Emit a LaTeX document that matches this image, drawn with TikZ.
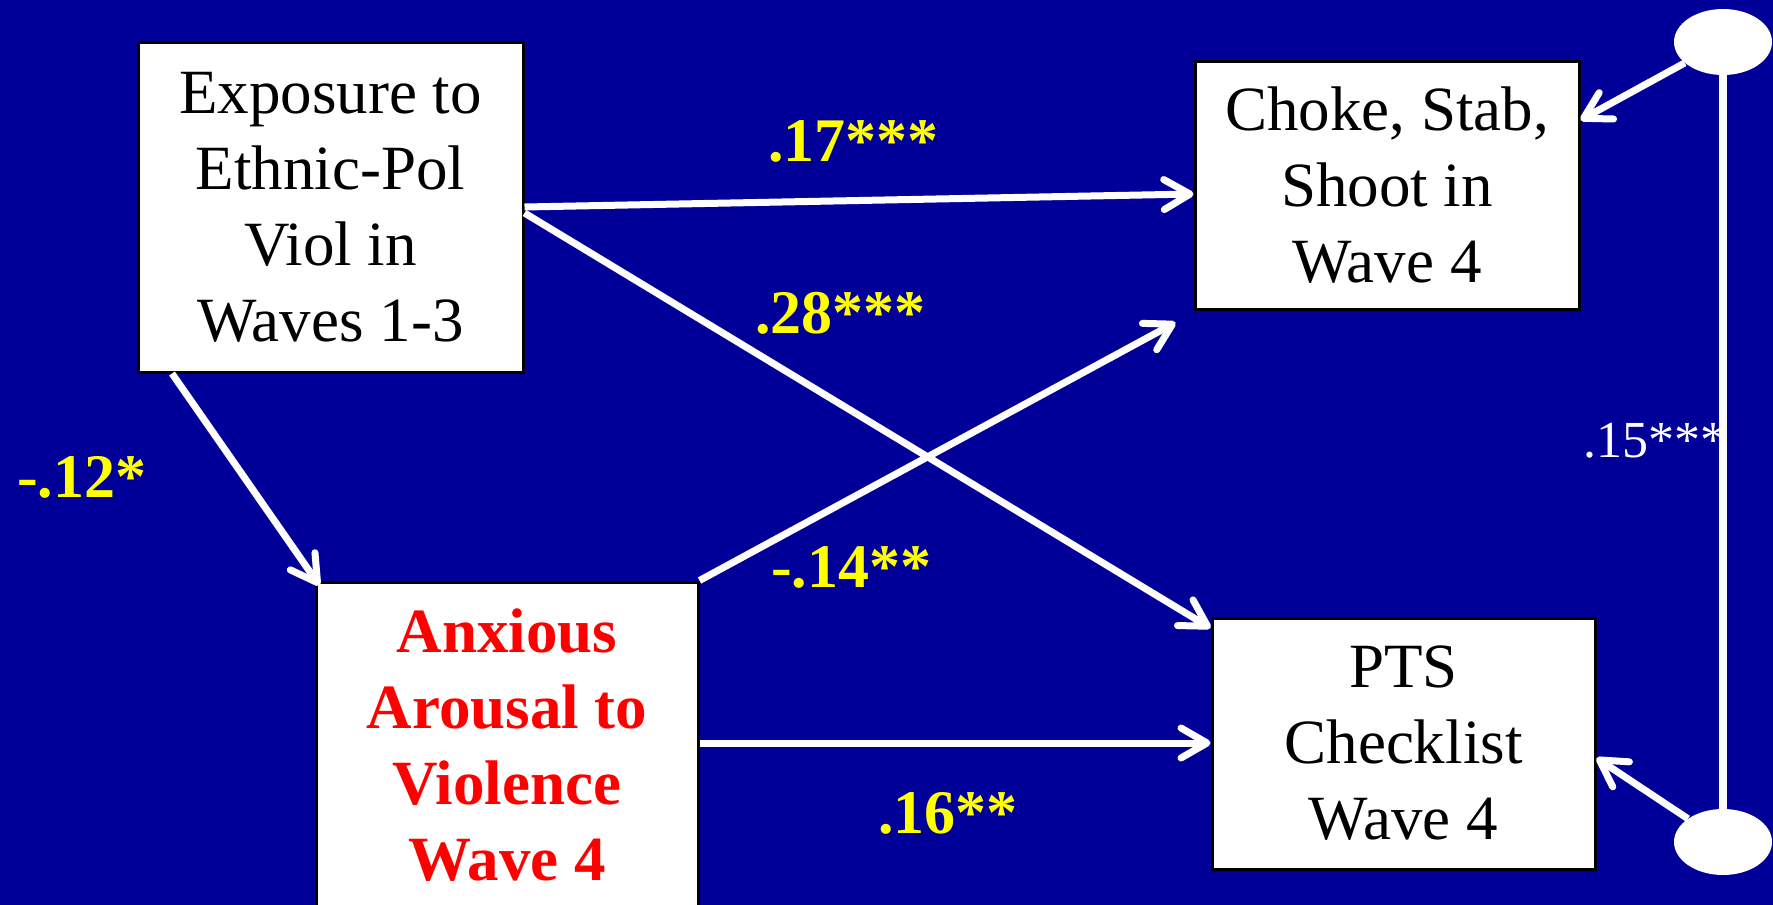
\documentclass[tikz,border=0pt]{standalone}
\usepackage{fontspec}
\setmainfont{Liberation Serif}
\usetikzlibrary{arrows.meta,shapes.geometric,calc}
\definecolor{bg}{RGB}{0,0,153}
\definecolor{lab}{RGB}{255,255,0}
\definecolor{anxred}{RGB}{255,0,0}
\begin{document}
\begin{tikzpicture}[x=1pt,y=-1pt,
  box/.style={draw=black, line width=3pt, fill=white, inner sep=0pt, align=center, font=\fontsize{63}{76}\selectfont},
  lbl/.style={text=lab, font=\bfseries\fontsize{62}{74}\selectfont, inner sep=0pt, anchor=base west},
  arr/.style={draw=white, line width=7pt, -{Straight Barb[length=26pt,width=30pt,round]}},
  oval/.style={ellipse, fill=white, minimum width=98pt, minimum height=66pt, inner sep=0pt}]
\fill[bg] (0,0) rectangle (1773,905);
\useasboundingbox (0,0) rectangle (1773,905);
\clip (0,0) rectangle (1773,905);

\node[box, minimum width=385pt, minimum height=330pt] (expo) at (330.5,207) {Exposure to\\Ethnic-Pol\\Viol in\\Waves 1-3};
\node[box, minimum width=384pt, minimum height=248pt] (choke) at (1387,185) {Choke, Stab,\\Shoot in\\Wave 4};
\node[box, minimum width=383pt, minimum height=251pt] (pts) at (1403.5,743.5) {PTS\\Checklist\\Wave 4};
\node[box, minimum width=382pt, minimum height=326pt, text=anxred, font=\bfseries\fontsize{63}{76}\selectfont] (anxious) at (507,745) {Anxious\\Arousal to\\Violence\\Wave 4};

\node[oval] (e1) at (1723,42) {};
\node[oval] (e2) at (1723,842) {};

\node[lbl] (l17) at (768,161) {.17***};
\node[lbl] (l28) at (755,333) {.28***};
\node[lbl] (l12) at (17,497) {-.12*};
\node[lbl] (l14) at (771,587) {-.14**};
\node[lbl] (l16) at (878,833) {.16**};
\node[text=white, font=\fontsize{52}{60}\selectfont, inner sep=0pt, anchor=base west] (l15) at (1583,457) {.15***};

\draw[white, line width=8pt] (e1) -- (e2);

\draw[arr] (expo.east |- 0,207) -- (choke.west |- 0,194);
\draw[arr] (expo.east |- 0,213) -- (pts.west |- 0,628);
\draw[arr] (expo.south -| 172,0) -- ([xshift=5pt,yshift=-5pt]anxious.north west);
\draw[arr] (anxious.north east) -- ([xshift=-18pt,yshift=-12pt]choke.south west);
\draw[arr] (anxious.east |- 0,743) -- (pts.west |- 0,743);
\draw[arr] (e1) -- (choke.east |- 0,120);
\draw[arr] (e2) -- (pts.east |- 0,758);
\end{tikzpicture}
\end{document}
